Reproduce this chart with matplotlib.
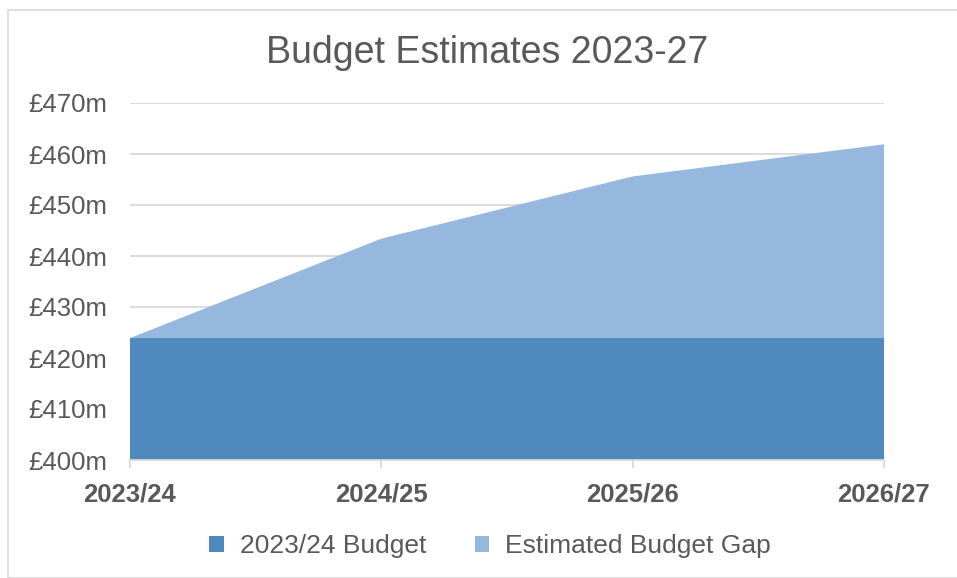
import matplotlib
matplotlib.use("Agg")
import matplotlib.pyplot as plt
from matplotlib.patches import Rectangle
import numpy as np

years = ["2023/24", "2024/25", "2025/26", "2026/27"]
budget = [423.9, 423.9, 423.9, 423.9]
gap = [0.0, 19.5, 31.7, 38.0]
yticks = [400, 410, 420, 430, 440, 450, 460, 470]
ytick_labels = ["£400m", "£410m", "£420m", "£430m", "£440m", "£450m", "£460m", "£470m"]

plt.rcParams['font.family'] = ['Liberation Sans', 'DejaVu Sans']

W, H = 957, 578
fig = plt.figure(figsize=(W/100, H/100), dpi=100)
fig.patch.set_facecolor('white')
fig.patches.append(Rectangle((8/W, 0), 1.2, 1 - 10/H, transform=fig.transFigure,
                             fill=False, edgecolor='#D9D9D9', linewidth=1.2))

ax = fig.add_axes([130/W, 1 - 460/H, (884-130)/W, (460-103)/H])
x = np.arange(len(years))
ax.stackplot(x, budget, gap, colors=['#4F89BD', '#97B8DE'], baseline='zero',
             labels=['2023/24 Budget', 'Estimated Budget Gap'], zorder=2)
ax.set_ylim(400, 470)
ax.set_xlim(0, len(years) - 1)
ax.set_yticks(yticks)
ax.set_yticklabels(ytick_labels, fontsize=18.5, color='#595959')
ax.set_xticks(x)
ax.set_xticklabels(years, fontsize=18.5, fontweight='bold', color='#595959')
ax.yaxis.grid(True, color='#D9D9D9', linewidth=1.3, zorder=0)
ax.set_axisbelow(True)
for s in ['top', 'right', 'left']:
    ax.spines[s].set_visible(False)
ax.spines['bottom'].set_color('#D9D9D9')
ax.spines['bottom'].set_linewidth(1.3)
ax.spines['bottom'].set_zorder(3)
ax.tick_params(axis='y', length=0, pad=16.5)
ax.tick_params(axis='x', length=6, color='#D9D9D9', width=1.3, pad=10)

fig.text(487.5/W, 1 - 63/H, "Budget Estimates 2023-27", ha='center', va='baseline',
         fontsize=27, color='#595959')

leg = fig.legend(*ax.get_legend_handles_labels(), loc='center', bbox_to_anchor=(490/W, 1 - 546/H),
                 ncol=2, frameon=False, fontsize=19, handlelength=0.55, handleheight=0.55,
                 columnspacing=1.85, handletextpad=0.6)
for t in leg.get_texts():
    t.set_color('#595959')

fig.savefig("out.png", dpi=100, facecolor='white')
